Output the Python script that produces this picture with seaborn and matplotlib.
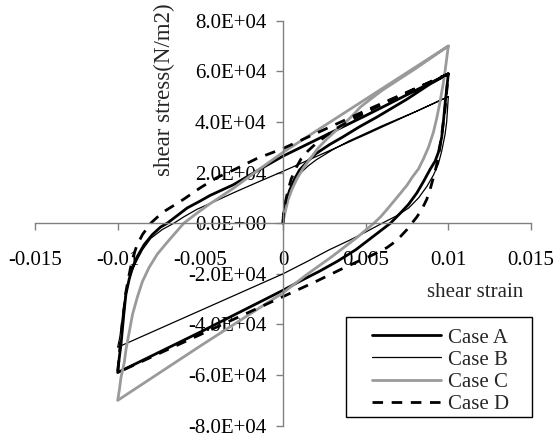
import numpy as np
import pandas as pd
import matplotlib
matplotlib.use("Agg")
import matplotlib.pyplot as plt
import seaborn as sns
from matplotlib.patches import Rectangle

sns.set_theme(style="ticks")
plt.rcParams["font.family"] = ["Liberation Serif", "DejaVu Serif"]

cases = ["Case A", "Case B", "Case C", "Case D"]

x_ticks = [-0.015, -0.01, -0.005, 0.0, 0.005, 0.01, 0.015]
x_tick_labels = ["-0.015", "-0.01", "-0.005", "0", "0.005", "0.01", "0.015"]
y_ticks = [-8e4, -6e4, -4e4, -2e4, 0.0, 2e4, 4e4, 6e4, 8e4]
y_tick_labels = ["-8.0E+04", "-6.0E+04", "-4.0E+04", "-2.0E+04", "0.0E+00",
                 "2.0E+04", "4.0E+04", "6.0E+04", "8.0E+04"]

# ---- Case A: initial loading, unloading branch, reloading branch ----
a_init_x = [0.0, 0.00003, 0.0001, 0.0002, 0.0004, 0.0007, 0.001, 0.0015, 0.002,
            0.0028, 0.0036, 0.0046, 0.0057, 0.0066, 0.0075, 0.0089, 0.01]
a_init_y = [0.0, 3e3, 6e3, 9e3, 1.3e4, 1.75e4, 2.1e4, 2.45e4, 2.75e4,
            3.1e4, 3.4e4, 3.8e4, 4.2e4, 4.55e4, 4.9e4, 5.5e4, 5.9e4]
a_down_x = [0.01, 0.0099, 0.0098, 0.0097, 0.0096, 0.0094, 0.0092, 0.0089, 0.0085,
            0.0081, 0.0076, 0.0071, 0.0065, 0.006, 0.0055, 0.005, 0.0044, 0.0033,
            0.0022, 0.001, 0.0, -0.005, -0.01]
a_down_y = [5.9e4, 5.3e4, 4.7e4, 4.0e4, 3.4e4, 2.8e4, 2.45e4, 2.13e4, 1.65e4,
            1.2e4, 7.5e3, 4e3, 0.0, -2.5e3, -5e3, -7.5e3, -1.05e4, -1.5e4,
            -1.9e4, -2.3e4, -2.65e4, -4.3e4, -5.9e4]
a_up_x = [-0.01, -0.0099, -0.0098, -0.0097, -0.0096, -0.0095, -0.0093, -0.0091,
          -0.0088, -0.0084, -0.0079, -0.0074, -0.007, -0.0064, -0.0058, -0.005,
          -0.0044, -0.003, -0.002, -0.001, 0.0, 0.005, 0.01]
a_up_y = [-5.9e4, -5.3e4, -4.8e4, -4.1e4, -3.4e4, -2.8e4, -2.2e4, -1.75e4,
          -1.3e4, -8.5e3, -4.5e3, -1.5e3, 0.0, 3e3, 6e3, 8.8e3,
          1.1e4, 1.52e4, 1.9e4, 2.28e4, 2.65e4, 4.25e4, 5.9e4]

# ---- Case B ----
b_init_x = [0.0, 0.00003, 0.0001, 0.0002, 0.0004, 0.0007, 0.001, 0.0015, 0.002,
            0.003, 0.004, 0.006, 0.008, 0.01]
b_init_y = [0.0, 2.5e3, 5e3, 8e3, 1.2e4, 1.6e4, 1.95e4, 2.25e4, 2.5e4,
            2.9e4, 3.25e4, 3.85e4, 4.4e4, 5.0e4]
b_down_x = [0.01, 0.00995, 0.0099, 0.0098, 0.0096, 0.0094, 0.0091, 0.0087, 0.0082,
            0.0076, 0.0069, 0.006, 0.005, 0.004, 0.0028, 0.0015, 0.0, -0.005, -0.01]
b_down_y = [5.0e4, 4.5e4, 4.0e4, 3.5e4, 2.85e4, 2.35e4, 1.9e4, 1.45e4, 1.0e4,
            6e3, 3e3, 0.0, -3.5e3, -6.8e3, -1.05e4, -1.5e4, -2.0e4, -3.45e4, -4.9e4]
b_up_x = [-0.01, -0.0099, -0.0098, -0.0097, -0.0096, -0.0094, -0.0092, -0.0089,
          -0.0085, -0.008, -0.0073, -0.0066, -0.006, -0.0052, -0.004, -0.003,
          -0.0015, 0.0, 0.005, 0.01]
b_up_y = [-4.9e4, -4.6e4, -4.2e4, -3.6e4, -3.1e4, -2.45e4, -2.0e4, -1.55e4,
          -1.05e4, -6e3, -2.5e3, 0.0, 2.5e3, 5.5e3, 9e3, 1.2e4,
          1.63e4, 2.05e4, 3.5e4, 5.0e4]

# ---- Case C ----
c_init_x = [0.0, 0.00005, 0.00015, 0.00032, 0.00055, 0.00083, 0.0012, 0.00163,
            0.0021, 0.00264, 0.0031, 0.00365, 0.0042, 0.0047, 0.006, 0.008, 0.01]
c_init_y = [0.0, 2e3, 5e3, 9.5e3, 1.35e4, 1.74e4, 2.15e4, 2.53e4,
            2.95e4, 3.32e4, 3.6e4, 3.9e4, 4.25e4, 4.6e4, 5.25e4, 6.1e4, 7.0e4]
c_down_x = [0.01, 0.0099, 0.0098, 0.0097, 0.0095, 0.0093, 0.0091, 0.0088, 0.0085,
            0.0082, 0.0078, 0.0075, 0.007, 0.0063, 0.0059, 0.0055, 0.0045, 0.003,
            0.0015, 0.0, -0.005, -0.01]
c_down_y = [7.0e4, 6.5e4, 6.0e4, 5.55e4, 4.8e4, 4.15e4, 3.6e4, 3.0e4, 2.55e4,
            2.15e4, 1.8e4, 1.5e4, 1.1e4, 5.5e3, 2.5e3, 0.0, -5.5e3, -1.3e4,
            -2.0e4, -2.75e4, -4.85e4, -7.0e4]
c_up_x = [-0.01, -0.0099, -0.0098, -0.0096, -0.0095, -0.0093, -0.0091, -0.0088,
          -0.0085, -0.0081, -0.0076, -0.007, -0.0064, -0.006, -0.0053, -0.0045,
          -0.003, -0.0015, 0.0, 0.005, 0.01]
c_up_y = [-7.0e4, -6.6e4, -6.1e4, -5.5e4, -5.0e4, -4.3e4, -3.6e4, -2.9e4,
          -2.3e4, -1.75e4, -1.22e4, -7.5e3, -3e3, 0.0, 3.5e3, 7.3e3,
          1.38e4, 2.1e4, 2.8e4, 4.9e4, 7.0e4]

# ---- Case D ----
d_init_x = [0.0, 0.00003, 0.0001, 0.0002, 0.0003, 0.0005, 0.0008, 0.0011, 0.0015,
            0.002, 0.0025, 0.003, 0.0035, 0.0045, 0.006, 0.008, 0.01]
d_init_y = [0.0, 4e3, 7e3, 1e4, 1.3e4, 1.75e4, 2.2e4, 2.55e4, 2.85e4,
            3.15e4, 3.4e4, 3.65e4, 3.85e4, 4.2e4, 4.7e4, 5.3e4, 5.9e4]
d_down_x = [0.01, 0.0099, 0.0098, 0.0097, 0.0096, 0.0095, 0.0094, 0.0092, 0.0089,
            0.0087, 0.0084, 0.0081, 0.0078, 0.0075, 0.0071, 0.0067, 0.0063, 0.0058,
            0.0053, 0.0045, 0.0037, 0.002, 0.0, -0.005, -0.01]
d_down_y = [5.9e4, 5.2e4, 4.5e4, 4.0e4, 3.5e4, 3.05e4, 2.6e4, 2.05e4, 1.34e4,
            9.5e3, 5.5e3, 2.5e3, 0.0, -2.5e3, -5.3e3, -7.7e3, -9.6e3, -1.13e4,
            -1.29e4, -1.52e4, -1.76e4, -2.3e4, -2.9e4, -4.4e4, -5.9e4]
d_up_x = [-0.01, -0.0099, -0.0098, -0.0097, -0.0096, -0.00955, -0.0094, -0.00925,
          -0.0091, -0.00885, -0.0085, -0.008, -0.0075, -0.0071, -0.006, -0.005,
          -0.004, -0.003, -0.0016, 0.0, 0.005, 0.01]
d_up_y = [-5.9e4, -5.2e4, -4.4e4, -3.8e4, -3.3e4, -2.9e4, -2.35e4, -1.85e4,
          -1.4e4, -9e3, -4.5e3, 0.0, 3e3, 5e3, 9.5e3, 1.4e4,
          1.8e4, 2.1e4, 2.55e4, 2.95e4, 4.45e4, 5.9e4]

paths = {
    "Case A": (a_init_x + a_down_x + a_up_x, a_init_y + a_down_y + a_up_y),
    "Case B": (b_init_x + b_down_x + b_up_x, b_init_y + b_down_y + b_up_y),
    "Case C": (c_init_x + c_down_x + c_up_x, c_init_y + c_down_y + c_up_y),
    "Case D": (d_init_x + d_down_x + d_up_x, d_init_y + d_down_y + d_up_y),
}
df = pd.concat(
    [pd.DataFrame({"case": name, "strain": xs, "stress": ys})
     for name, (xs, ys) in paths.items()],
    ignore_index=True,
)

palette = {"Case A": "black", "Case B": "black", "Case C": "#9a9a9a", "Case D": "black"}
widths = {"Case A": 2.0, "Case B": 0.9, "Case C": 2.0, "Case D": 2.0}
dash_styles = {"Case A": "", "Case B": "", "Case C": "", "Case D": (3.8, 3.1)}

fig = plt.figure(figsize=(5.57, 4.38), dpi=100)
ax = fig.add_axes([35 / 557, 1 - 425.7 / 438, 496 / 557, 405 / 438])

sns.lineplot(data=df, x="strain", y="stress", hue="case", size="case", style="case",
             hue_order=cases, size_order=cases, style_order=cases,
             palette=palette, sizes=widths, dashes=dash_styles,
             sort=False, estimator=None, legend=False, ax=ax)

ax.set_xlim(-0.015, 0.015)
ax.set_ylim(-8e4, 8e4)
ax.set_xticks(x_ticks)
ax.set_xticklabels(x_tick_labels)
ax.set_yticks(y_ticks)
ax.set_yticklabels(y_tick_labels)

axis_grey = "#808080"
for side in ("top", "right"):
    ax.spines[side].set_visible(False)
for side in ("left", "bottom"):
    ax.spines[side].set_position(("data", 0))
    ax.spines[side].set_color(axis_grey)
    ax.spines[side].set_linewidth(1.0)
ax.tick_params(axis="x", direction="out", length=5, width=1.0, color=axis_grey,
               pad=15, labelsize=15, labelcolor="black", bottom=True)
ax.tick_params(axis="y", direction="out", length=5, width=1.0, color=axis_grey,
               pad=7, labelsize=15, labelcolor="black", left=True)
ax.grid(False)
ax.set_facecolor("white")

ax.set_xlabel("shear strain", fontsize=15)
ax.xaxis.set_label_coords(0.887, 0.328)
ax.xaxis.label.set_verticalalignment("center")
ax.set_ylabel("shear stress(N/m2)", fontsize=16.5)
ax.yaxis.set_label_coords(0.262, 0.829)
ax.yaxis.label.set_verticalalignment("center")

lines = ax.get_lines()[:4]
ax.legend(lines, cases, loc="center", bbox_to_anchor=(441 / 557, 1 - 371 / 438),
          bbox_transform=fig.transFigure, frameon=False, fontsize=15,
          handlelength=3.3, handletextpad=0.35, labelspacing=0.12, borderpad=0.0)
fig.add_artist(Rectangle((346 / 557, 1 - 417 / 438), 186 / 557, 100 / 438,
                         transform=fig.transFigure, fill=False,
                         edgecolor="black", linewidth=1.0))

fig.savefig("out.png", dpi=100, facecolor="white")
